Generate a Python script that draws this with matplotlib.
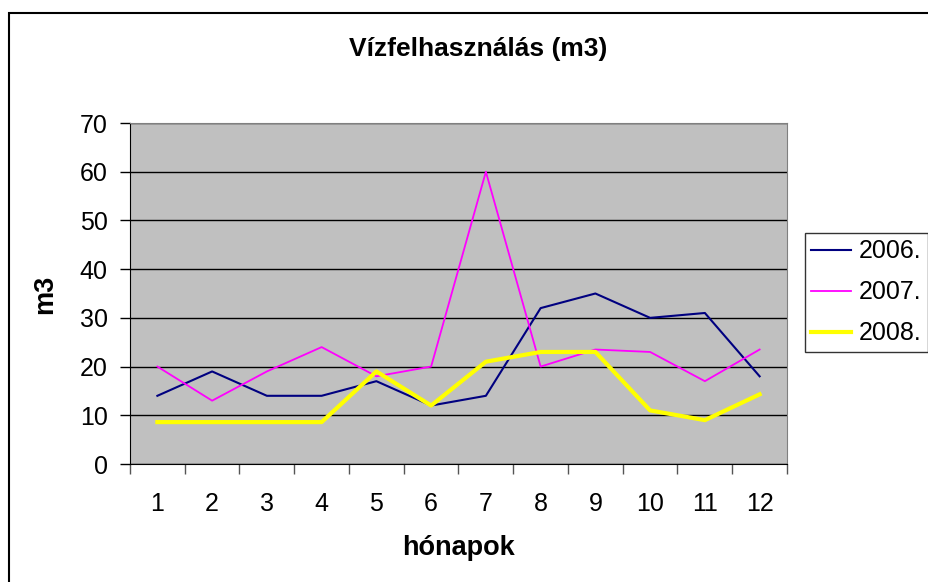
import numpy as np
import matplotlib.pyplot as plt
from matplotlib.patches import Rectangle
from matplotlib.ticker import FixedLocator

# =====================
# 数据
# =====================

honapok = list(range(1, 13))
ev_2006 = [14, 19, 14, 14, 17, 12, 14, 32, 35, 30, 31, 18]
ev_2007 = [20, 13, 19, 24, 18, 20, 60, 20, 23.5, 23, 17, 23.5]
ev_2008 = [8.6, 8.6, 8.6, 8.6, 19, 12, 21, 23, 23, 11, 9, 14.3]

# =====================
# 全局设置
# =====================

plt.rcParams['font.family'] = ['Liberation Sans', 'DejaVu Sans']

fig = plt.figure(figsize=(9.29, 5.82), dpi=100)
ax = fig.add_axes([130 / 929, 1 - 464 / 582, (787 - 130) / 929, (464 - 123) / 582])

# 外框
fig.patches.append(Rectangle(
    (9 / 929, -0.1), 2, 1 - 13 / 582 + 0.1,
    transform=fig.transFigure, fill=False,
    edgecolor='black', linewidth=1.5
))

# =====================
# 绘图
# =====================

ax.set_facecolor('#c0c0c0')
ax.plot(honapok, ev_2006, color='#000080', linewidth=1.5, label='2006.')
ax.plot(honapok, ev_2007, color='#ff00ff', linewidth=1.3, label='2007.')
ax.plot(honapok, ev_2008, color='#ffff00', linewidth=3, label='2008.')

ax.set_xlim(0.5, 12.5)
ax.set_ylim(0, 70)
ax.set_yticks(np.arange(0, 71, 10))
ax.yaxis.grid(True, color='black', linewidth=1)
ax.set_axisbelow(True)

ax.set_xticks(honapok)
ax.xaxis.set_minor_locator(FixedLocator(np.arange(0.5, 13, 1)))
ax.tick_params(axis='x', which='major', length=0, pad=20, labelsize=18)
ax.tick_params(axis='x', which='minor', length=7, width=1, color='#555555')
ax.tick_params(axis='y', length=7, width=1, pad=9, labelsize=18)

for side in ['top', 'right']:
    ax.spines[side].set_color('#808080')
for side in ['left', 'bottom']:
    ax.spines[side].set_color('black')

# =====================
# 文字
# =====================

fig.text(478 / 929, 1 - 49 / 582, 'Vízfelhasználás (m3)',
         ha='center', va='center', fontsize=19, fontweight='bold')
fig.text(459 / 929, 1 - 548 / 582, 'hónapok',
         ha='center', va='center', fontsize=19.5, fontweight='bold')
fig.text(45 / 929, 1 - 294 / 582, 'm3', rotation=90,
         ha='center', va='center', fontsize=19.5, fontweight='bold')

leg = fig.legend(
    loc='upper left', bbox_to_anchor=(805 / 929, 1 - 233 / 582),
    borderaxespad=0, fontsize=18, frameon=True, fancybox=False,
    borderpad=0.25, handlelength=1.6, handletextpad=0.3, labelspacing=0.68
)
leg.get_frame().set_edgecolor('black')
leg.get_frame().set_linewidth(1)

fig.savefig('out.png', dpi=100)
